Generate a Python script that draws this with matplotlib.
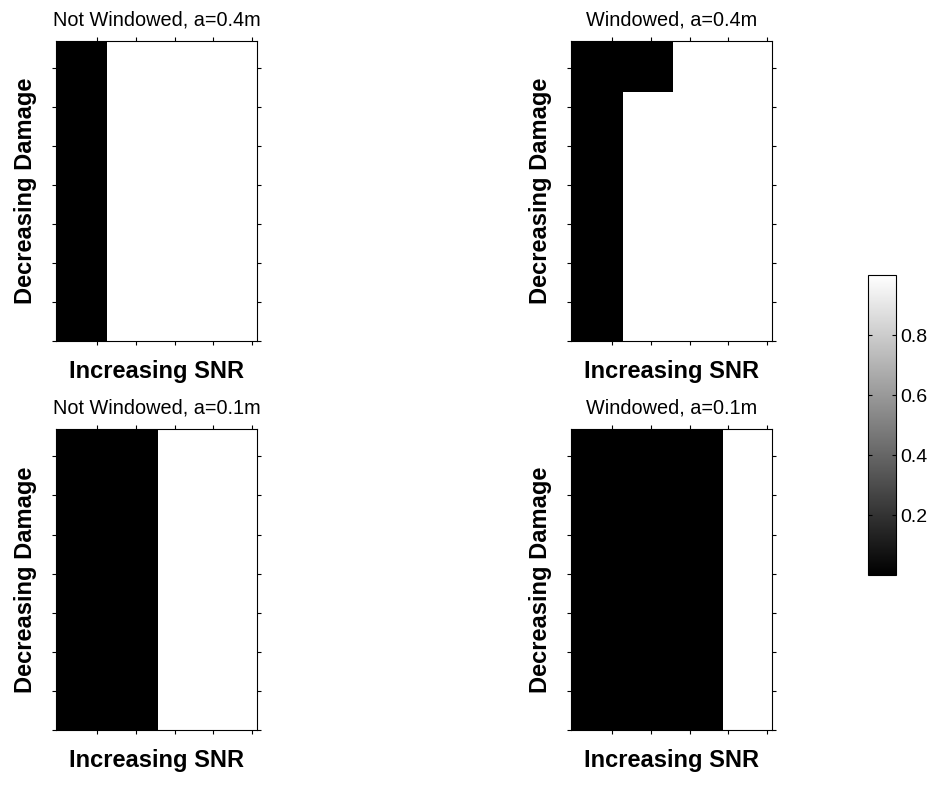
import numpy as np
import matplotlib.pyplot as plt

plt.rcParams['font.family'] = ['Liberation Sans', 'DejaVu Sans']

W, H = 937, 805

titles = ['Not Windowed, a=0.4m', 'Windowed, a=0.4m',
          'Not Windowed, a=0.1m', 'Windowed, a=0.1m']
# damage bands (bottom to top) and the SNR level where detection switches on
damage_edges = [[0.0, 7.70], [0.0, 6.40, 7.70], [0.0, 7.70], [0.0, 7.70]]
snr_switch = [[1.26], [1.28, 2.57], [2.57], [3.86]]
snr_range = (-0.06, 5.13)
snr_ticks = [1, 2, 3, 4, 5]
damage_ticks = [0, 1, 2, 3, 4, 5, 6, 7]
cbar_ticks = [0.2, 0.4, 0.6, 0.8]

# axes boxes in pixels: left, top, right, bottom
boxes = [(56, 41, 257, 341), (571, 41, 772, 341),
         (56, 429, 257, 730), (571, 429, 772, 730)]


def px_rect(l, t, r, b):
    return [l / W, (H - b) / H, (r - l) / W, (b - t) / H]


fig = plt.figure(figsize=(W / 100, H / 100), dpi=100)

mesh = None
for title, edges, switch, box in zip(titles, damage_edges, snr_switch, boxes):
    ax = fig.add_axes(px_rect(*box))
    for i, thr in enumerate(switch):
        x = [snr_range[0], thr, snr_range[1]]
        y = [edges[i], edges[i + 1]]
        mesh = ax.pcolormesh(x, y, [[0.0, 1.0]], cmap='gray', vmin=0, vmax=1)
    ax.set_xlim(*snr_range)
    ax.set_ylim(0, damage_edges[0][-1])
    ax.set_xticks(snr_ticks)
    ax.set_yticks(damage_ticks)
    ax.tick_params(direction='out', length=3, width=0.8, top=True, right=True,
                   labelbottom=False, labelleft=False)
    for s in ax.spines.values():
        s.set_linewidth(0.8)
    ax.set_title(title, fontsize=14.3, pad=11)
    ax.set_xlabel('Increasing SNR', fontsize=17, fontweight='bold', labelpad=11)
    ax.set_ylabel('Decreasing Damage', fontsize=17, fontweight='bold', labelpad=11)

cax = fig.add_axes(px_rect(868, 275, 896, 575))
cb = fig.colorbar(mesh, cax=cax, ticks=cbar_ticks)
cb.outline.set_linewidth(0.8)
cax.yaxis.set_ticks_position('both')
cax.tick_params(direction='in', length=3, width=0.8, labelsize=14,
                labelleft=False, labelright=True, pad=3)
cax.set_yticklabels([f'{t:.1f}' for t in cbar_ticks])

fig.savefig('out.png', dpi=100)
